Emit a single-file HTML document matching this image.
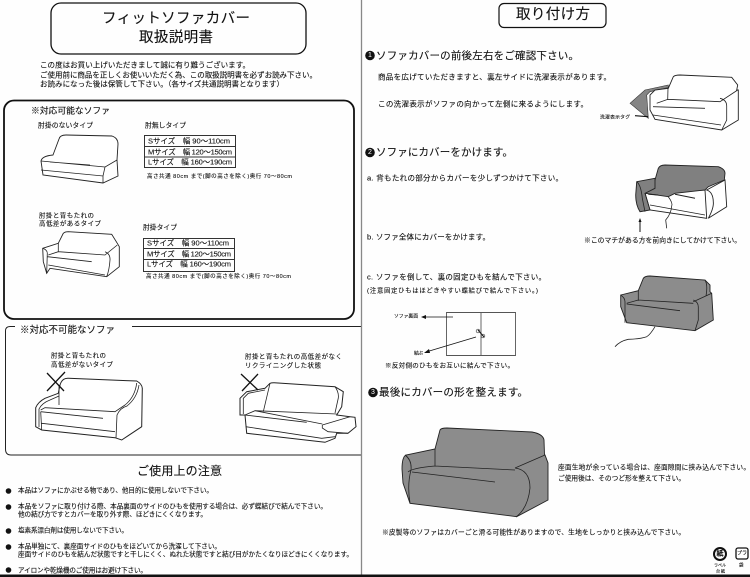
<!DOCTYPE html>
<html lang="ja">
<head>
<meta charset="utf-8">
<style>
html,body{margin:0;padding:0;background:#fff;width:750px;height:577px;overflow:hidden}
svg{display:block;filter:blur(.3px)}
text{font-family:"Liberation Sans","Noto Sans CJK JP",sans-serif;dominant-baseline:central;fill:#111;stroke:#111;stroke-width:.12;font-size:7.5px}
.l{fill:none;stroke:#222;stroke-width:.8}
.w{fill:#fff;stroke:#222;stroke-width:.9}
.g{fill:#8c8c8c;stroke:#222;stroke-width:.9}
</style>
</head>
<body>
<svg width="750" height="577" viewBox="0 0 750 577" xmlns="http://www.w3.org/2000/svg">
<rect width="750" height="577" fill="#fefefe"/>

<!-- left page -->
<rect x="51" y="3" width="255" height="51" rx="10" fill="none" stroke="#111" stroke-width="1.3"/>
<text x="102" y="19" textLength="148" style="font-size:14.5px">フィットソファカバー</text>
<text x="139" y="38" textLength="74" style="font-size:14.5px">取扱説明書</text>
<text x="40" y="65" textLength="210">この度はお買い上げいただきまして誠に有り難うございます。</text>
<text x="40" y="75" textLength="277">ご使用前に商品を正しくお使いいただく為、この取扱説明書を必ずお読み下さい。</text>
<text x="40" y="84" textLength="244">お読みになった後は保管して下さい。（各サイズ共通説明書となります）</text>

<rect x="4" y="100.5" width="350" height="218.5" rx="10" fill="none" stroke="#111" stroke-width="1.8"/>
<text x="31" y="110.5" textLength="79" style="font-size:8.8px">※対応可能なソファ</text>
<text x="38" y="126" textLength="55" style="font-size:6.8px">肘掛のないタイプ</text>
<text x="145" y="126" textLength="41" style="font-size:6.8px">肘無しタイプ</text>

<!-- sofa 1 armless -->
<path class="w" d="M53,155 L59,139 Q60,135 66,135 L112,136 Q118,138 118,144 L117,160 L118,176 L103,183 L43,175 L41,161 Q42,156 53,155 Z"/>
<path class="l" d="M41,170 L103,176 L105,167 L117,160 M103,176 L103,183 M41,161 L105,167 M50,162 L90,165"/>

<path d="M144.5,135.5 h91 v32 h-91 Z M144.5,146.5 H235.5 M144.5,157 H235.5" fill="none" stroke="#333" stroke-width="1"/>
<path d="M143.5,238.5 h91 v33 h-91 Z M143.5,248.5 H234.5 M143.5,259.5 H234.5" fill="none" stroke="#333" stroke-width="1"/>
<text x="148" y="141" textLength="82">Sサイズ　幅 90～110cm</text>
<text x="148" y="152" textLength="84">Mサイズ　幅 120～150cm</text>
<text x="148" y="162" textLength="84">Lサイズ　幅 160～190cm</text>
<text x="147" y="177" textLength="145" style="font-size:5.5px">高さ共通 80cm まで(脚の高さを除く)奥行 70～80cm</text>

<text x="39" y="216" textLength="55" style="font-size:6.5px">肘掛と背もたれの</text>
<text x="39" y="224" textLength="62" style="font-size:6.5px">高低差があるタイプ</text>

<!-- sofa 2 -->
<path class="w" d="M42.7,248.3 L58.3,243.3 L63.3,233.3 Q65,231.7 68.3,231.7 L111.7,234.3 L117.3,243.3 L119.3,246.7 L119.3,266.7 L106.7,276.7 L50,268.3 L46.7,273.3 L43.3,261.7 Z"/>
<path class="l" d="M58.3,243 V251.7 M48.3,255 L58.3,251.7 L105,255 L117.3,245 M105,251.7 Q110.500,254 110,260 Q109.300,270 106.700,276.700 M42.700,248.300 Q47.300,250 47.300,253.300 L46.700,273.300 M47.300,256.700 L91.700,261.700 M48.300,265 L105,275"/>

<text x="143" y="228" textLength="34" style="font-size:6.8px">肘掛タイプ</text>
<text x="147" y="243" textLength="82">Sサイズ　幅 90～110cm</text>
<text x="147" y="254" textLength="84">Mサイズ　幅 120～150cm</text>
<text x="147" y="264" textLength="84">Lサイズ　幅 160～190cm</text>
<text x="146" y="277" textLength="145" style="font-size:5.5px">高さ共通 80cm まで(脚の高さを除く)奥行 70～80cm</text>

<path d="M15,326.500 H10 Q5.500,326.500 5.500,331 V449 Q5.500,455 11,455 H361 M132,326.500 H361" fill="none" stroke="#222" stroke-width="1"/>
<text x="20" y="330.500" textLength="95" style="font-size:9.5px">※対応不可能なソファ</text>
<text x="51" y="356" textLength="55" style="font-size:6.5px">肘掛と背もたれの</text>
<text x="51" y="365" textLength="62" style="font-size:6.5px">高低差がないタイプ</text>
<text x="245" y="357" textLength="97" style="font-size:6.5px">肘掛と背もたれの高低差がなく</text>
<text x="245" y="366" textLength="76" style="font-size:6.5px">リクライニングした状態</text>

<!-- sofa 3 -->
<path class="w" style="stroke-width:1" d="M35.700,426.700 L35.700,407.700 Q38,402 45,398.300 L58.300,393.300 L60,385 Q62,378 68.300,378.300 L136.700,381 Q142,384 142.300,388.300 L141.700,426.700 L121.700,440 L115,437.700 L41.700,430 Z"/>
<path class="l" d="M59,385 V405 M39,427 L39,409 Q42,403 50,400 L59,396 M40.700,410 L45,407.700 L115,411.700 L125,405 Q135,397 136.700,383 M116,438 L117,415 Q120,408 127,406 Q137,398 139,385 M40.700,411.700 L103,418.300 M41.700,423.300 L115,431.700 M40.700,411.700 L41.700,430"/>
<path d="M47,373 L64,391 M65,372 L47,391" stroke="#111" stroke-width="1.300" fill="none"/>

<!-- sofa 4 -->
<path class="w" style="stroke-width:1" d="M240,415 L240,398.300 L246.700,391.700 L265,388.300 L270,383.300 Q272,382.500 278,383 L335,386.700 L343.300,391.700 L341.700,406.700 L336.700,415 L350,416.700 L355,417.300 L356,426.700 L348,433.300 L336.700,433.300 L335,438.300 L325,442.300 L246.700,433.300 L245,415 Z"/>
<path class="l" d="M270,383.300 L263.300,411.700 M245,415 L255,410.700 L336.700,414 M335,386.700 Q339,392 338.300,398 L335,413 M243.300,414 L243.300,398.300 L248.300,393.300 L265,390 M245,415 L306.700,422.300 M322.300,425 L350,416.700 M322.300,425 L322.300,428 L328,431.700 L348,433.300 M245.700,426.700 L321.700,438.300 L335,436.700 M255,410.700 L322.300,424"/>
<path d="M241,374 L258,390 M258,374 L242,391" stroke="#111" stroke-width="1.300" fill="none"/>

<text x="137" y="471" textLength="85" style="font-size:12px">ご使用上の注意</text>
<g fill="#111">
<circle cx="8.500" cy="491" r="2.800"/><circle cx="8.500" cy="507" r="2.800"/><circle cx="8.500" cy="531" r="2.800"/><circle cx="8.500" cy="547" r="2.800"/><circle cx="8.500" cy="570" r="2.800"/>
</g>
<text x="18" y="491" textLength="195" style="font-size:6.600px">本品はソファにかぶせる物であり、他目的に使用しないで下さい。</text>
<text x="18" y="507" textLength="309" style="font-size:6.600px">本品をソファに取り付ける際、本品裏面のサイドのひもを使用する場合は、必ず蝶結びで結んで下さい。</text>
<text x="18" y="515" textLength="189" style="font-size:6.600px">他の結び方ですとカバーを取り外す際、ほどきにくくなります。</text>
<text x="18" y="531" textLength="110" style="font-size:6.600px">塩素系漂白剤は使用しないで下さい。</text>
<text x="18" y="547" textLength="203" style="font-size:6.600px">本品単独にて、裏座面サイドのひもをほどいてから洗濯して下さい。</text>
<text x="18" y="555" textLength="335" style="font-size:6.600px">座面サイドのひもを結んだ状態ですと干しにくく、ぬれた状態ですと結び目がかたくなりほどきにくくなります。</text>
<text x="18" y="571" textLength="129" style="font-size:6.600px">アイロンや乾燥機のご使用はお避け下さい。</text>

<!-- right page -->
<rect x="499" y="3.500" width="107" height="24" rx="5" fill="none" stroke="#111" stroke-width="1.200"/>
<text x="516" y="15" textLength="74" style="font-size:14.500px">取り付け方</text>

<circle cx="370" cy="55.500" r="4.800" fill="#111"/><text x="370" y="55.500" text-anchor="middle" style="font-size:7px;fill:#fff;stroke:none">1</text>
<text x="376" y="56" textLength="203" style="font-size:10.500px">ソファカバーの前後左右をご確認下さい。</text>
<text x="378" y="77" textLength="233">商品を広げていただきますと、裏左サイドに洗濯表示があります。</text>
<text x="378" y="104" textLength="210">この洗濯表示がソファの向かって左側に来るようにします。</text>

<!-- sofa 5 -->
<path d="M630,103.300 L645,90 L668.300,85 L668.300,87.500 L650,91.700 L646.700,95 L648.300,118.300 Z" fill="#858585" stroke="#333" stroke-width=".6"/>
<path class="w" d="M650,110 L650,95 L655,90 L668.300,88.300 L673.300,76.700 Q675,75 680,75 L731.700,77.300 L737.700,85 L736.700,90 L738.300,90 L738.300,120 L721.700,130 L655,119.300 Z"/>
<path class="l" d="M668,88 L667.700,100 M656.700,103.300 L668,99.300 L720,101.700 L737.700,90 M720,98.300 Q726.700,100 726.700,106 L726.700,120 L721.700,130 M653,106.700 L705,108.300 M653,115 L721,125"/>
<path d="M635,115.700 L648,116.700" stroke="#111" stroke-width="1.200"/>
<text x="600" y="118" textLength="30" style="font-size:4.800px">洗濯表示タグ</text>

<circle cx="370" cy="152.500" r="4.800" fill="#111"/><text x="370" y="152.500" text-anchor="middle" style="font-size:7px;fill:#fff;stroke:none">2</text>
<text x="376" y="152.500" textLength="137" style="font-size:10.500px">ソファにカバーをかけます。</text>
<text x="367" y="178" textLength="196">a. 背もたれの部分からカバーを少しずつかけて下さい。</text>
<text x="367" y="237" textLength="123">b. ソファ全体にカバーをかけます。</text>

<!-- sofa 6 -->
<path class="w" d="M645,193 L705,190 L706.700,218.300 L650,210 Z"/>
<path class="g" style="fill:#808080" d="M655,180 L658.300,168.300 Q660,165 665,165 L718.300,166.700 Q725,169 725,173.300 L724.300,180 L708.300,186.700 L705,190 L675,193.300 L668.300,196.700 L645,193.300 Z"/>
<path class="g" style="fill:#808080" d="M636.700,181.700 L655,178.300 L655,188.300 L645,193.300 L650,210 L640,211.700 Q635.700,205 635.700,195 Z"/>
<path class="w" d="M706.700,190 L725,180 L726.700,206.700 L708.300,218.300 Q714,208 713.300,201.700 Q713,192 706.700,190 Z"/>
<path class="l" d="M636.700,181.700 Q641,185 642.300,198.300 L645,211.700 M668.300,196.700 Q673,203 671.700,206 Q671,214 665.700,220 L666.700,228.300 M650,205 L705,215"/>
<path d="M675,194.300 L695,198.300 M648.300,194.300 L658.300,195" stroke="#222" stroke-width="1" fill="none"/>
<path d="M640,221 V232" stroke="#111" stroke-width="1"/>
<path d="M640,218 L638.500,222 H641.500 Z" fill="#111"/>
<text x="584" y="241" textLength="157" style="font-size:6.800px">※このマチがある方を前向きにしてかけて下さい。</text>

<text x="367" y="277" textLength="179">c. ソファを倒して、裏の固定ひもを結んで下さい。</text>
<text x="367" y="291" textLength="171" style="font-size:6.300px">(注意固定ひもはほどきやすい蝶結びで結んで下さい。)</text>
<path d="M446.500,312.500 H515.500 V355.500 H446.500 Z M481,312.500 V355.500" fill="none" stroke="#555" stroke-width=".9"/>
<path d="M424,317 H453" stroke="#111" stroke-width=".8"/><path d="M421,317 L426,315 V319 Z" fill="#111"/>
<text x="394" y="317" textLength="24" style="font-size:4.800px">ソファ裏面</text>
<path d="M476,337 L426,352" stroke="#111" stroke-width=".8"/><path d="M424,353 L429,349 L430,353 Z" fill="#111"/>
<text x="414" y="354" textLength="9" style="font-size:4.800px">結ぶ</text>
<path d="M478,330 L484,337" stroke="#111" stroke-width="1"/>
<circle cx="478" cy="331" r="1.800" fill="none" stroke="#444" stroke-width=".7"/><circle cx="483" cy="336" r="1.800" fill="none" stroke="#444" stroke-width=".7"/>
<text x="385" y="366" textLength="129" style="font-size:6.500px">※反対側のひもをお互いに結んで下さい。</text>

<!-- sofa 7 -->
<path class="g" d="M620.700,295 L638.300,290.700 L643.300,278.300 Q645,276 650,276 L705,280 L710,285 L710,291.700 L711.700,293.300 L713.300,320 L695,330.700 L626.700,322.700 L620.700,306.700 Z"/>
<path class="l" d="M638.300,290.700 V300.700 M626.700,303.300 L638.300,300 L693.300,303.300 M620.700,295 Q625,298 625,301.700 V322.700 M693.300,301.700 L711.700,293.300 M693.300,300 Q698.300,302 698.300,307 V320 L695,330.700 M626.700,304 L680,310.700 M705,280 Q708,285 706,296"/>
<path d="M655,326.700 Q650,335 646.700,336.700 Q640,339 628.300,339.300 Q620,341 615,346.700" fill="none" stroke="#222" stroke-width=".8"/>

<circle cx="373" cy="392.500" r="4.800" fill="#111"/><text x="373" y="392.500" text-anchor="middle" style="font-size:7px;fill:#fff;stroke:none">3</text>
<text x="379" y="392.500" textLength="149" style="font-size:10.500px">最後にカバーの形を整えます。</text>

<!-- sofa 8 -->
<path class="g" d="M402,469 Q402,457 406,455 L435,449 L440,430 Q441,428 447,428 L532,432 Q543,434 544,440 L544.500,455 L545,455 L548,463 L548,500 L516.700,516.700 L410,503.300 L403,483 Z"/>
<path class="l" d="M435,449 V466 M408,472 Q412,468 435,466 L515,470 M515,468 L545,455 M515,468 Q530,470 530,488 Q528,508 516,517 M405,455 Q412,460 411,470 Q407,485 410,503 M412,472 L495,482"/>

<text x="558" y="468" textLength="192" style="font-size:6.700px">座面生地が余っている場合は、座面隙間に挟み込んで下さい。</text>
<text x="558" y="479" textLength="127" style="font-size:6.700px">ご使用後は、そのつど形を整えて下さい。</text>
<text x="382" y="533" textLength="303" style="font-size:6.700px">※皮製等のソファはカバーごと滑る可能性がありますので、生地をしっかりと挟み込んで下さい。</text>

<!-- recycle marks -->
<circle cx="720" cy="554" r="6" fill="none" stroke="#111" stroke-width="2"/>
<text x="720" y="554" text-anchor="middle" style="font-size:7px;font-weight:bold">紙</text>
<rect x="736" y="548" width="12" height="11" rx="2" fill="none" stroke="#111" stroke-width="1.300"/>
<text x="742" y="553.500" text-anchor="middle" style="font-size:5px">プラ</text>
<text x="714" y="565" textLength="12" style="font-size:4px">ラベル</text>
<text x="716" y="571" textLength="9" style="font-size:4px">台紙</text>
<text x="739" y="565" textLength="5" style="font-size:4.500px">袋</text>

<!-- page frame -->
<path d="M361.500,0 V577" stroke="#888" stroke-width="1.300"/>
<rect x="0" y="574.500" width="750" height="2.500" fill="#111"/>
</svg>
</body>
</html>
